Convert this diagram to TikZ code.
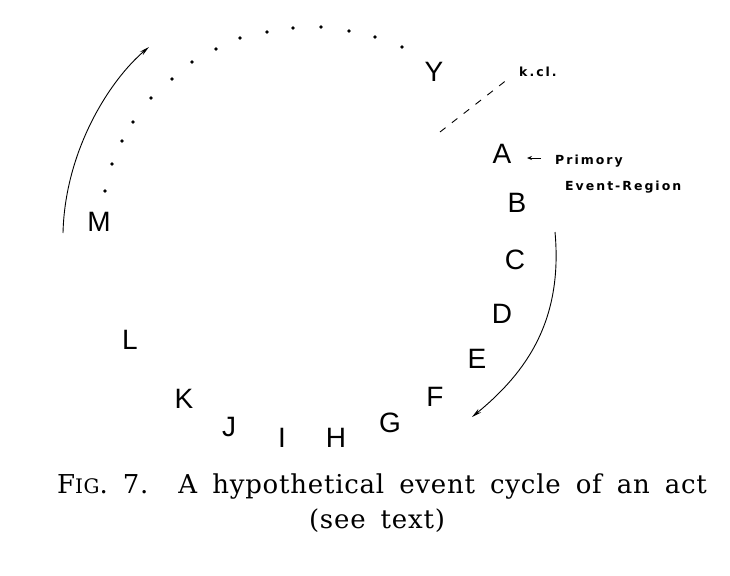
\documentclass[tikz,border=0pt]{standalone}
\usepackage{fontspec}
\setmainfont{DejaVu Serif}[LetterSpace=3]
\newfontfamily\lblfont{Liberation Sans}
\newfontfamily\smallfont{DejaVu Sans}[LetterSpace=16]
\newcommand\capspacing{\spaceskip=15pt\relax}
\usetikzlibrary{arrows.meta}
\tikzset{
  letter/.style={font=\lblfont\fontsize{28}{30}\selectfont, inner sep=0pt},
  smalllbl/.style={font=\smallfont\bfseries\fontsize{12.5}{14}\selectfont, inner sep=0pt, anchor=base west},
  arcline/.style={line width=0.9pt, -{Stealth[length=10pt,width=4.5pt]}},
  dot/.style={circle, fill=black, inner sep=0pt, minimum size=3.6pt},
  caption/.style={font=\fontsize{26}{35}\selectfont, inner sep=0pt, anchor=base}
}
\begin{document}
\begin{tikzpicture}[x=1pt,y=-1pt]
\useasboundingbox (0,0) rectangle (730,575);
\fill[white] (0,0) rectangle (730,575);
% letters
\node[letter] (Y) at (434,72) {Y};
\node[letter] (A) at (502,154) {A};
\node[letter] (B) at (517,203) {B};
\node[letter] (C) at (515,260) {C};
\node[letter] (D) at (502,314) {D};
\node[letter] (E) at (477,359) {E};
\node[letter] (F) at (435,397) {F};
\node[letter] (G) at (390,423) {G};
\node[letter] (H) at (336,438) {H};
\node[letter] (I) at (282,438) {I};
\node[letter] (J) at (229,427) {J};
\node[letter] (K) at (184,399) {K};
\node[letter] (L) at (130,340) {L};
\node[letter] (M) at (99,222) {M};
% dotted arc
\foreach \px/\py [count=\i] in {105/191,112/164,122/141,133/122,151/98,172/79,192/62,216/49,240/38,267/32,293/28,321/27,349/31,375/37,402/47}
  \node[dot] (d\i) at (\px,\py) {};
% dashed line
\coordinate (kA) at (440,132);
\coordinate (kB) at (508,79);
\draw[line width=0.9pt, dash pattern=on 7pt off 8pt] (kA) -- (kB);
\node[smalllbl] (kcl) at (519,77) {k.cl.};
% primary event region
\node[smalllbl] (prim) at (555,164) {Primory};
\node[smalllbl] (evreg) at (565,190) {Event-Region};
\coordinate (primtip) at (527,158);
\draw[line width=0.8pt, -{Stealth[length=5pt,width=4pt]}] (prim.west |- primtip) ++(-14,0) coordinate (primtail) -- (primtip);
% arcs
\coordinate (lstart) at (63,233);
\coordinate (lend) at (149,47);
\draw[arcline] (lstart) .. controls (65,150) and (110,80) .. (lend);
\coordinate (rstart) at (555,232);
\coordinate (rend) at (472,417);
\draw[arcline] (rstart) .. controls (563,320) and (527,372) .. (rend);
% caption
\node[caption] (cap1) at (382,493) {\capspacing F{\fontsize{20}{20}\selectfont IG}. 7.\hspace{12pt} A hypothetical event cycle of an act};
\node[caption] (cap2) at (377,528) {\capspacing (see text)};
\end{tikzpicture}
\end{document}
